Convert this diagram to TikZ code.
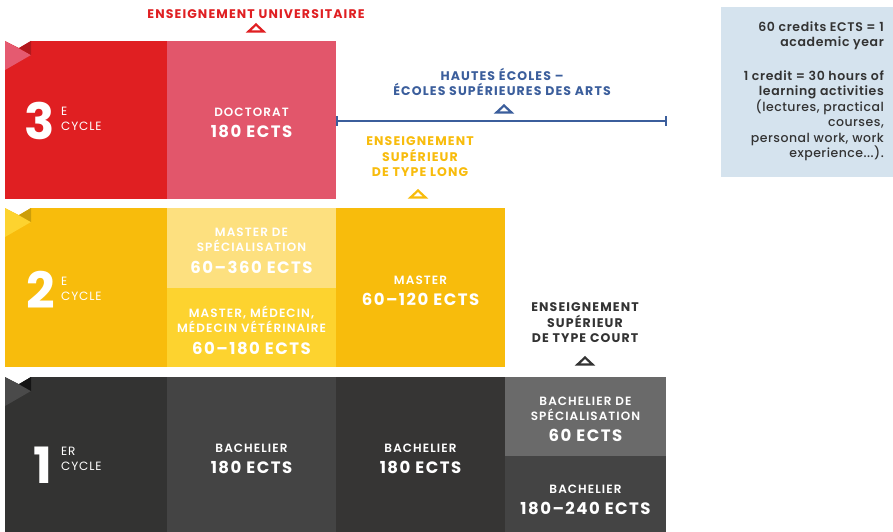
\documentclass[tikz,border=0pt]{standalone}
\usepackage{fontspec}
\setmainfont{Poppins}
\newfontfamily\semi{Poppins SemiBold}[LetterSpace=9]
\newfontfamily\bld{Poppins Bold}[LetterSpace=9]
\newfontfamily\bldN{Poppins Bold}
\newfontfamily\semiI{Poppins SemiBold}[LetterSpace=5]
\newfontfamily\med{Poppins Medium}[LetterSpace=4]
\newfontfamily\regS{Poppins}[LetterSpace=7]
\definecolor{red3}{HTML}{E01F22}
\definecolor{pink3}{HTML}{E2566B}
\definecolor{foldlA}{HTML}{E55A70}
\definecolor{folddA}{HTML}{B3181D}
\definecolor{yel}{HTML}{F8BC0C}
\definecolor{ylight}{HTML}{FDE07F}
\definecolor{ymid}{HTML}{FDD32F}
\definecolor{folddB}{HTML}{CC9E0A}
\definecolor{gA}{HTML}{333332}
\definecolor{gB}{HTML}{444444}
\definecolor{gC}{HTML}{363534}
\definecolor{gD}{HTML}{6A6A6A}
\definecolor{foldlC}{HTML}{4A4A4A}
\definecolor{folddC}{HTML}{141414}
\definecolor{blu}{HTML}{3B5E9C}
\definecolor{darktxt}{HTML}{333333}
\definecolor{infobg}{HTML}{D5E3EE}
\newcommand\labf{\semi\fontsize{12}{15}\selectfont}
\newcommand\numf{\bld\fontsize{16.5}{19}\selectfont}
\newcommand\flagfold[3]{%
  \fill[white] (4,#1-0.5) -- (31.5,#1-0.5) -- (19,#1+7) -- cycle;
  \fill[#2] (5,#1) -- (31,#1+14) -- (5,#1+29) -- cycle;
  \fill[#3] (19,#1+7) -- (31,#1) -- (31,#1+14) -- cycle;}
\begin{document}
\begin{tikzpicture}[x=1pt,y=-1pt,
  cell/.style={anchor=north west, inner sep=0pt, outer sep=0pt},
  txt/.style={align=center, text=white, font=\labf, inner sep=0pt},
  big/.style={font=\bldN\fontsize{50}{50}\selectfont, text=white, inner sep=0pt},
  sup/.style={anchor=west, align=left, font=\regS\fontsize{12}{15}\selectfont, text=white, inner sep=0pt},
  head/.style={align=center, font=\bld\fontsize{12.5}{15.5}\selectfont, inner sep=0pt},
  pics/tmark/.style={code={\draw[line width=2.2pt, #1, line join=miter, fill=white] (-7.5,3.5)--(0,-3.5)--(7.5,3.5)--cycle;}}]
\useasboundingbox (0,0) rectangle (893,532);
\fill[white] (0,0) rectangle (893,532);
% row 3
\node[cell, fill=red3, minimum width=162pt, minimum height=158pt] (c3a) at (5,41) {};
\node[cell, fill=pink3, minimum width=169pt, minimum height=158pt] (c3b) at (167,41) {};
\node[txt] (t3b) at ([yshift=-3pt]c3b.center) {\labf DOCTORAT\\[6pt]\numf 180 ECTS};
\flagfold{41}{foldlA}{folddA}
\node[big, anchor=east] (n3) at (55,121) {3};
\node[sup] (s3) at (61,119) {E\\CYCLE};
% row 2
\node[cell, fill=yel, minimum width=162pt, minimum height=159pt] (c2a) at (5,208) {};
\node[cell, fill=ylight, minimum width=169pt, minimum height=80pt] (c2b) at (167,208) {};
\node[txt] (t2b) at ([yshift=-3pt]c2b.center) {\labf MASTER DE\\\labf SPÉCIALISATION\\[6.5pt]\numf 60–360 ECTS};
\node[cell, fill=ymid, minimum width=169pt, minimum height=79pt] (c2c) at (167,288) {};
\node[txt] (t2c) at ([yshift=-3pt]c2c.center) {\labf MASTER, MÉDECIN,\\\labf MÉDECIN VÉTÉRINAIRE\\[6.5pt]\numf 60–180 ECTS};
\node[cell, fill=yel, minimum width=169pt, minimum height=159pt] (c2d) at (336,208) {};
\node[txt] (t2d) at ([yshift=-3pt]c2d.center) {\labf MASTER\\[6pt]\numf 60–120 ECTS};
\flagfold{208}{ymid}{folddB}
\node[big, anchor=east] (n2) at (55,290) {2};
\node[sup] (s2) at (61,289) {E\\CYCLE};
% row 1
\node[cell, fill=gA, minimum width=162pt, minimum height=163pt] (c1a) at (5,377) {};
\node[cell, fill=gB, minimum width=169pt, minimum height=163pt] (c1b) at (167,377) {};
\node[txt] (t1b) at (c1b.center) {\labf BACHELIER\\[6pt]\numf 180 ECTS};
\node[cell, fill=gC, minimum width=169pt, minimum height=163pt] (c1c) at (336,377) {};
\node[txt] (t1c) at (c1c.center) {\labf BACHELIER\\[6pt]\numf 180 ECTS};
\node[cell, fill=gD, minimum width=161pt, minimum height=79pt] (c1d) at (505,377) {};
\node[txt] (t1d) at ([yshift=-3pt]c1d.center) {\labf BACHELIER DE\\\labf SPÉCIALISATION\\[6.5pt]\numf 60 ECTS};
\node[cell, fill=gB, minimum width=161pt, minimum height=84pt] (c1e) at (505,456) {};
\node[txt] (t1e) at ([yshift=-1.5pt]c1e.center) {\labf BACHELIER\\[6pt]\numf 180–240 ECTS};
\flagfold{377}{foldlC}{folddC}
\node[big, anchor=east] (n1) at (52,465) {1};
\node[sup] (s1) at (61,459) {ER\\CYCLE};
% headings
\node[head, text=red3] (tu) at (256,14) {ENSEIGNEMENT UNIVERSITAIRE};
\pic at (256,28) {tmark=red3};
\node[head, text=blu] (he) at (502,82) {HAUTES ÉCOLES –\\ÉCOLES SUPÉRIEURES DES ARTS};
\pic at (504,109) {tmark=blu};
\coordinate (bl) at (337,121);
\coordinate (br) at (666,121);
\draw[blu, line width=2pt] (bl) -- (br);
\draw[blu, line width=2pt] ([yshift=-4.5pt]bl) -- ([yshift=4.5pt]bl);
\draw[blu, line width=2pt] ([yshift=-4.5pt]br) -- ([yshift=4.5pt]br);
\node[head, text=yel] (tl) at (420,157) {ENSEIGNEMENT\\SUPÉRIEUR\\DE TYPE LONG};
\pic at (418,194) {tmark=yel};
\node[head, text=darktxt] (tc) at (585,323) {ENSEIGNEMENT\\SUPÉRIEUR\\DE TYPE COURT};
\pic at (585,361) {tmark=darktxt};
% info box
\node[anchor=north west, fill=infobg, inner sep=0pt, minimum width=172pt, minimum height=170pt] (info) at (721,7) {};
\node[anchor=north east, align=right, inner sep=0pt, text=darktxt, font=\fontsize{12.5}{15.5}\selectfont] (infot) at (884,21)
  {\semiI 60 credits ECTS = 1\\\semiI academic year\\[18pt]\semiI 1 credit = 30 hours of\\\semiI learning activities\\\med (lectures, practical\\\med courses,\\\med personal work, work\\\med experience...).};
\end{tikzpicture}
\end{document}
